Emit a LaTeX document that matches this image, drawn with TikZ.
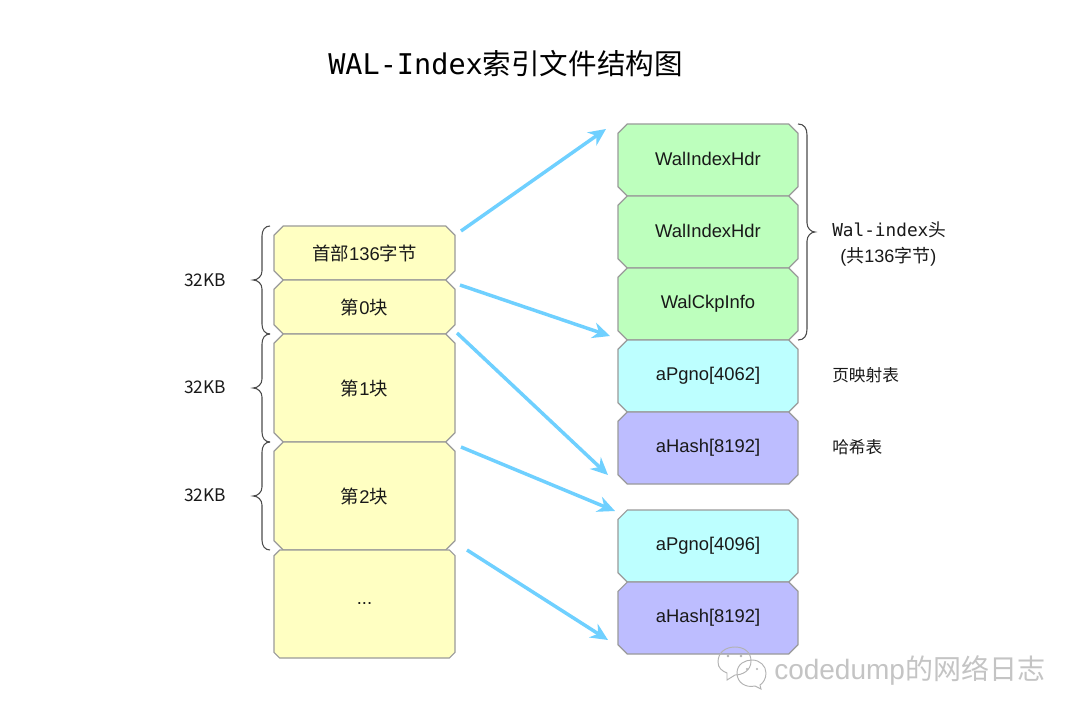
\documentclass[tikz,border=0pt]{standalone}
\usepackage{fontspec}
\setmainfont{Liberation Sans}
\newfontfamily\cjk{Noto Sans CJK SC}
\newfontfamily\mono{DejaVu Sans Mono}
\usetikzlibrary{shapes.misc,arrows.meta}
\definecolor{yel}{HTML}{FFFFC2}
\definecolor{grn}{HTML}{BDFFBD}
\definecolor{cya}{HTML}{BDFFFF}
\definecolor{vio}{HTML}{BDBDFF}
\definecolor{edge}{HTML}{9A9A9A}
\definecolor{arr}{HTML}{6FD0FF}
\definecolor{wm}{HTML}{C4C4C4}
\tikzset{
  x=0.75pt,y=-0.75pt,
  cell/.style={chamfered rectangle,chamfered rectangle xsep=3.5pt,chamfered rectangle ysep=3.5pt,
    draw=edge,line width=0.9pt,inner sep=0pt,font=\fontsize{13.8}{16}\selectfont,text=black!90},
  lcell/.style={cell,fill=yel,minimum width=135.75pt},
  rcell/.style={cell,minimum width=135pt,minimum height=54pt},
  flow/.style={draw=arr,line width=2.6pt,-{Stealth[length=13pt,width=12pt]},shorten >=0pt},
  lab/.style={font=\fontsize{13.5}{16}\selectfont,text=black!90,inner sep=0pt},
  brc/.style={draw=black!70,line width=0.8pt},
}
\newcommand{\zh}[1]{{\cjk #1}}
\newcommand{\up}[1]{\raisebox{1.2pt}{#1}}
% left brace from the named coordinate #1 at its top; each half is 54 high
\newcommand{\leftbrc}[1]{\draw[brc] (#1) .. controls +(-5,0) and +(0,-6) .. ++(-8,10) -- ++(0,35) .. controls +(0,5) and +(5,0) .. ++(-9,9) .. controls +(5,0) and +(0,-5) .. ++(9,9) -- ++(0,35) .. controls +(0,6) and +(-5,0) .. ++(8,10);}
\begin{document}
\begin{tikzpicture}
\useasboundingbox (0,0) rectangle (1080,720);
\fill[white] (0,0) rectangle (1080,720);
\node[inner sep=0pt,anchor=base west] (title) at (328,75) {\fontsize{21.4}{24}\selectfont\mono WAL-Index\cjk 索引文件结构图};
% left column
\node[lcell,minimum height=40.5pt] (h) at (364.5,253) {\zh{首部}136\zh{字节}};
\node[lcell,minimum height=40.5pt] (b0) at (364.5,307) {\zh{第}0\zh{块}};
\node[lcell,minimum height=81pt] (b1) at (364.5,388) {\zh{第}1\zh{块}};
\node[lcell,minimum height=81pt] (b2) at (364.5,496) {\zh{第}2\zh{块}};
\node[lcell,minimum height=81pt] (b3) at (364.5,604) {...};
% right column
\node[rcell,fill=grn] (r1) at (708,160) {\up{WalIndexHdr}};
\node[rcell,fill=grn] (r2) at (708,232) {\up{WalIndexHdr}};
\node[rcell,fill=grn] (r3) at (708,304) {\up{WalCkpInfo}};
\node[rcell,fill=cya] (r4) at (708,376) {\up{aPgno[4062]}};
\node[rcell,fill=vio] (r5) at (708,448) {\up{aHash[8192]}};
\node[rcell,fill=cya] (r6) at (708,546) {\up{aPgno[4096]}};
\node[rcell,fill=vio] (r7) at (708,618) {\up{aHash[8192]}};
% arrows
\coordinate (a1s) at (461,231); \coordinate (a1e) at (606,129);
\coordinate (a2s) at (460,285); \coordinate (a2e) at (610,336);
\coordinate (a3s) at (457,333); \coordinate (a3e) at (608,475);
\coordinate (a4s) at (461,447); \coordinate (a4e) at (615,511);
\coordinate (a5s) at (467,550); \coordinate (a5e) at (608,640);
\draw[flow] (a1s) -- (a1e);
\draw[flow] (a2s) -- (a2e);
\draw[flow] (a3s) -- (a3e);
\draw[flow] (a4s) -- (a4e);
\draw[flow] (a5s) -- (a5e);
% braces
\coordinate (l1t) at (270,226);
\coordinate (l2t) at (270,334);
\coordinate (l3t) at (270,442);
\coordinate (rbt) at (798,124);
\leftbrc{l1t}
\leftbrc{l2t}
\leftbrc{l3t}
\draw[brc] (rbt) .. controls +(6,0) and +(0,-7) .. ++(9,11) -- ++(0,88) .. controls +(0,5) and +(-4,0) .. ++(8,9) .. controls +(-4,0) and +(0,-5) .. ++(-8,9) -- ++(0,88) .. controls +(0,7) and +(6,0) .. ++(-9,11);
\node[lab,font=\fontsize{13}{16}\selectfont\cjk] (k1) at (205,280) {32KB};
\node[lab,font=\fontsize{13}{16}\selectfont\cjk] (k2) at (205,387) {32KB};
\node[lab,font=\fontsize{13}{16}\selectfont\cjk] (k3) at (205,495) {32KB};
\node[lab,anchor=base west] (wi) at (832,237) {\fontsize{13.3}{16}\selectfont\mono Wal-index\cjk 头};
\node[lab,anchor=base west] (wj) at (840,262) {(\zh{共}136\zh{字节})};
\node[lab,anchor=west,font=\fontsize{12.5}{16}\selectfont\cjk] (p1) at (832,375) {页映射表};
\node[lab,anchor=west,font=\fontsize{12.5}{16}\selectfont\cjk] (p2) at (832,447) {哈希表};
% watermark
\begin{scope}[draw=black!30,fill=white,line width=0.7pt]
\draw (718,662) .. controls (718,652) and (726,647) .. (735,647) .. controls (744,647) and (751,652) .. (751,661) .. controls (751,671) and (742,675) .. (735,675) -- (727,680) -- (727,673) .. controls (722,671) and (718,668) .. (718,662) -- cycle;
\draw (737,673) .. controls (737,664) and (745,660) .. (752,660) .. controls (760,660) and (766,666) .. (766,673) .. controls (766,679) and (763,683) .. (760,685) -- (761,689) -- (755,686) .. controls (746,688) and (737,683) .. (737,673) -- cycle;
\fill[black!30] (728,656) circle (1.3) (741,656) circle (1.3) (747,669) circle (1.2) (757,669) circle (1.2);
\end{scope}
\node[inner sep=0pt,anchor=base west,text=wm] (wmk) at (774,679) {\fontsize{21}{23}\selectfont codedump\cjk 的网络日志};
\end{tikzpicture}
\end{document}
